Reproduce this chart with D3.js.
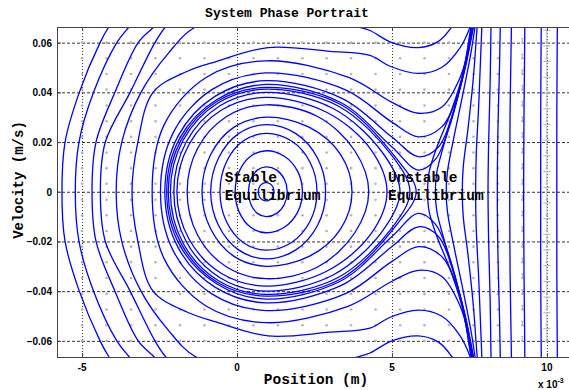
<!DOCTYPE html>
<html lang="en">
<head>
<meta charset="UTF-8">
<title>System Phase Portrait</title>
<script src="https://d3js.org/d3.v7.min.js"></script>
<style>
  body { margin: 0; background: #fff; }
  .tick-label { font-family: "Liberation Sans", Arial, sans-serif; font-size: 10px; font-weight: bold; }
  .mono { font-family: "Liberation Mono", "Courier New", monospace; font-weight: bold; }
</style>
</head>
<body>
<svg id="chart" width="569" height="390"></svg>
<script>
// axis ticks
const xTicks = [-5, 0, 5, 10];
const yTicks = [-0.06, -0.04, -0.02, 0, 0.02, 0.04, 0.06];

// quiver grid (gray markers) and the arrow length seen in each column
const quiverX = [-5, -4.21, -3.42, -2.63, -1.84, -1.05, -0.26, 0.53, 1.32, 2.11, 2.89, 3.68, 4.47, 5.26, 6.05, 6.84, 7.63, 8.42, 9.21, 10];
const quiverV = [-0.06, -0.0537, -0.0474, -0.0411, -0.0347, -0.0284, -0.0221, -0.0158, -0.0095, -0.0032,
                 0.0032, 0.0095, 0.0158, 0.0221, 0.0284, 0.0347, 0.0411, 0.0474, 0.0537, 0.06];
const quiverLen = [0, 0, 0, 0, 0, 0, 0, 0, 0, 0, 0, 0, 0, 0, 0, 0, 0, 0, 0.0018, 0.0052];

// closed orbits round the stable point, upper halves [x, v]
const ringOrbits = [
  [[0.69, 0], [0.72, 0.0019], [0.815, 0.0032], [0.94, 0.0037], [1.065, 0.0032], [1.157, 0.0019], [1.19, 0]],
  [[0.37, 0], [0.446, 0.005], [0.655, 0.0087], [0.94, 0.01], [1.28, 0.0087], [1.529, 0.005], [1.62, 0]],
  [[-0.06, 0], [0.074, 0.0083], [0.44, 0.0143], [0.94, 0.0165], [1.525, 0.0143], [1.953, 0.0083], [2.11, 0]],
  [[-0.55, 0], [-0.35, 0.0118], [0.195, 0.0204], [0.94, 0.0235], [1.76, 0.0204], [2.36, 0.0118], [2.58, 0]],
  [[-0.85, 0], [-0.6, 0.0135], [0.05, 0.0234], [0.94, 0.027], [1.9, 0.0234], [2.6, 0.0135], [2.86, 0]],
  [[-1.13, 0], [-0.85, 0.015], [-0.095, 0.026], [0.94, 0.03], [2.325, 0.026], [3.34, 0.015], [3.71, 0]],
  [[-1.61, 0], [-1.27, 0.0175], [-0.335, 0.0303], [0.94, 0.035], [2.6, 0.0303], [3.8, 0.0165], [4.25, 0]],
  [[-1.94, 0], [-1.55, 0.019], [-0.5, 0.0329], [0.94, 0.038], [2.89, 0.032], [4.32, 0.017], [4.84, 0]],
  [[-2.04, 0], [-1.64, 0.02], [-0.55, 0.0346], [0.94, 0.04], [3.1, 0.0335], [4.68, 0.016], [5.26, 0]],
  [[-2.15, 0], [-1.74, 0.0207], [-0.6, 0.0358], [0.94, 0.0413], [3.26, 0.0345], [5.0, 0.0145], [5.58, 0]],
  [[-2.22, 0], [-1.8, 0.021], [-0.64, 0.0364], [0.94, 0.042], [3.36, 0.035], [5.2, 0.0125], [5.78, 0]]
];

// orbits passing outside the separatrix, upper halves from the left turning point
const passingOrbits = [
  [[-2.27, 0], [-1.85, 0.0215], [-0.66, 0.037], [0.94, 0.0432], [3.36, 0.0358], [5.0, 0.018], [5.85, 0.0087], [6.4, 0.013], [6.9, 0.028], [7.3, 0.048], [7.6, 0.07]],
  [[-2.33, 0], [-1.9, 0.0225], [-0.7, 0.0385], [0.94, 0.0447], [3.4, 0.0375], [5.0, 0.022], [5.85, 0.0141], [6.5, 0.018], [7.0, 0.033], [7.35, 0.05], [7.63, 0.07]],
  [[-2.47, 0], [-2.05, 0.024], [-0.8, 0.0412], [0.94, 0.0478], [3.5, 0.041], [5.0, 0.028], [5.85, 0.0221], [6.6, 0.026], [7.1, 0.038], [7.45, 0.055], [7.68, 0.07]],
  [[-2.74, 0], [-2.35, 0.027], [-1.0, 0.046], [0.94, 0.0527], [3.6, 0.046], [5.0, 0.036], [5.85, 0.0316], [6.6, 0.034], [7.2, 0.046], [7.55, 0.062], [7.7, 0.072]],
  [[-3.39, 0], [-3.2, 0.02], [-2.71, 0.04], [-1.6, 0.0485], [-0.65, 0.0525], [1.0, 0.058], [3.0, 0.0565], [4.29, 0.0549], [4.94, 0.0505], [5.85, 0.0476], [6.6, 0.05], [7.2, 0.058], [7.52, 0.0663], [7.6, 0.07]],
  [[-3.9, 0], [-3.72, 0.02], [-3.1, 0.04], [-2.2, 0.056], [-1.35, 0.0663], [0.94, 0.075], [3.93, 0.0663], [4.29, 0.0649], [5.0, 0.06], [5.85, 0.058], [6.5, 0.0605], [6.93, 0.0663], [7.1, 0.07]],
  [[-4.41, 0], [-4.25, 0.02], [-3.45, 0.04], [-2.65, 0.06], [-2.31, 0.0663], [-1.8, 0.072]],
  [[-4.68, 0], [-4.55, 0.02], [-3.94, 0.04], [-3.19, 0.06], [-2.69, 0.0663], [-2.3, 0.072]],
  [[-5.22, 0], [-5.1, 0.02], [-4.63, 0.04], [-3.88, 0.06], [-3.49, 0.0663], [-3.1, 0.072]],
  [[-5.65, 0], [-5.55, 0.02], [-5.09, 0.04], [-4.42, 0.06], [-4.14, 0.0663], [-3.8, 0.072]]
];

// orbits to the right of the saddle, upper halves from the turning point
const rightOrbits = [
  [[6.15, 0], [6.2, 0.008], [6.45, 0.018], [6.9, 0.032], [7.3, 0.048], [7.55, 0.0663], [7.6, 0.07]],
  [[6.4, 0], [6.45, 0.008], [6.7, 0.02], [7.05, 0.035], [7.4, 0.052], [7.6, 0.0663], [7.65, 0.07]],
  [[6.75, 0], [6.79, 0.008], [7.0, 0.022], [7.3, 0.04], [7.55, 0.056], [7.68, 0.0663], [7.72, 0.07]],
  [[7.27, 0], [7.3, 0.01], [7.45, 0.025], [7.62, 0.045], [7.75, 0.0663], [7.78, 0.07]],
  [[7.7, 0], [7.72, 0.015], [7.8, 0.035], [7.9, 0.0663], [7.92, 0.07]],
  [[8.1, 0], [8.12, 0.02], [8.17, 0.045], [8.2, 0.07]],
  [[8.4, 0], [8.42, 0.025], [8.47, 0.05], [8.5, 0.07]],
  [[8.8, 0], [8.81, 0.03], [8.84, 0.055], [8.86, 0.07]],
  [[9.25, 0], [9.26, 0.03], [9.28, 0.055], [9.29, 0.07]],
  [[9.8, 0], [9.8, 0.03], [9.81, 0.055], [9.82, 0.07]],
  [[10.32, 0], [10.32, 0.03], [10.33, 0.055], [10.34, 0.07]]
];

const width = 569, height = 390;
// the axes run a little past the right edge of the picture
const margin = { left: 57, right: -3, top: 27, bottom: 33 };

const svg = d3.select("#chart");
const x = d3.scaleLinear().domain([-5.81, 10.81]).range([margin.left, width - margin.right]);
const y = d3.scaleLinear().domain([-0.0665, 0.0663]).range([height - margin.bottom, margin.top]);
const x0 = margin.left, x1 = width - margin.right, y0 = margin.top, y1 = height - margin.bottom;

svg.append("defs").append("clipPath").attr("id", "plot-clip")
  .append("rect").attr("x", x0).attr("y", y0).attr("width", x1 - x0).attr("height", y1 - y0);

// grid
const grid = svg.append("g").attr("stroke", "#000").attr("stroke-width", 0.8);
grid.selectAll(".gx").data(xTicks).join("line")
  .attr("x1", d => x(d) + 0.5).attr("x2", d => x(d) + 0.5)
  .attr("y1", y0).attr("y2", y1).attr("stroke-dasharray", "1,2");
grid.selectAll(".gy").data(yTicks).join("line")
  .attr("x1", x0).attr("x2", x1)
  .attr("y1", d => y(d) + 0.5).attr("y2", d => y(d) + 0.5).attr("stroke-dasharray", "3,2");

// quiver markers
const qpts = quiverX.flatMap((qx, i) => quiverV.map(qv => [qx, qv, quiverLen[i]]));
const quiver = svg.append("g").attr("clip-path", "url(#plot-clip)");
quiver.append("g").attr("fill", "#b4b4b4")
  .selectAll("circle").data(qpts).join("circle")
  .attr("cx", d => x(d[0])).attr("cy", d => y(d[1])).attr("r", 1.3);
const arrows = qpts.filter(d => d[2] > 0);
quiver.append("g").attr("stroke", "#b4b4b4").attr("stroke-width", 1)
  .selectAll("line").data(arrows).join("line")
  .attr("x1", d => x(d[0])).attr("x2", d => x(d[0]))
  .attr("y1", d => y(d[1])).attr("y2", d => y(d[1] + d[2]));
quiver.append("g").attr("stroke", "#b4b4b4").attr("stroke-width", 1)
  .selectAll("line").data(arrows).join("line")
  .attr("x1", d => x(d[0]) - d[2] * 700).attr("x2", d => x(d[0]) + d[2] * 700)
  .attr("y1", d => y(d[1] + d[2]) + 0.5).attr("y2", d => y(d[1] + d[2]) + 0.5);

// curves
const line = d3.line().x(d => x(d[0])).y(d => y(d[1]));
const plot = svg.append("g").attr("clip-path", "url(#plot-clip)")
  .attr("fill", "none").attr("stroke", "#0000ff").attr("stroke-width", 1.3);

const mirror = pts => pts.map(([a, b]) => [a, -b]);

plot.selectAll(".ring").data(ringOrbits).join("path")
  .attr("d", up => {
    const low = mirror(up.slice(1, -1)).reverse();
    return line.curve(d3.curveCatmullRomClosed)(up.concat(low));
  });

const openPath = up => {
  const low = mirror(up).reverse();
  return line.curve(d3.curveCatmullRom)(low.concat(up.slice(1)));
};
plot.selectAll(".pass").data(passingOrbits).join("path").attr("d", openPath);
plot.selectAll(".right").data(rightOrbits).join("path").attr("d", openPath);

// box and ticks
svg.append("rect").attr("x", x0 + 0.5).attr("y", y0 + 0.5)
  .attr("width", x1 - x0).attr("height", y1 - y0)
  .attr("fill", "none").attr("stroke", "#444").attr("stroke-width", 1);

const tickLen = 4;
const ticks = svg.append("g").attr("stroke", "#444");
xTicks.forEach(t => {
  ticks.append("line").attr("x1", x(t) + 0.5).attr("x2", x(t) + 0.5).attr("y1", y1).attr("y2", y1 - tickLen);
  ticks.append("line").attr("x1", x(t) + 0.5).attr("x2", x(t) + 0.5).attr("y1", y0).attr("y2", y0 + tickLen);
});
yTicks.forEach(t => {
  ticks.append("line").attr("x1", x0).attr("x2", x0 + tickLen).attr("y1", y(t) + 0.5).attr("y2", y(t) + 0.5);
});

// tick labels
svg.append("g").selectAll("text").data(xTicks).join("text")
  .attr("class", "tick-label").attr("x", d => x(d)).attr("y", y1 + 14)
  .attr("text-anchor", "middle").text(d => d);
svg.append("g").selectAll("text").data(yTicks).join("text")
  .attr("class", "tick-label").attr("x", x0 - 5).attr("y", d => y(d) + 4)
  .attr("text-anchor", "end").text(d => d === 0 ? "0" : d3.format(".2f")(d));

// exponent
const ex = svg.append("text").attr("class", "tick-label").attr("x", 538).attr("y", 388);
ex.append("tspan").text("x 10");
ex.append("tspan").attr("dy", -5).attr("font-size", 7).text("-3");

// titles
svg.append("text").attr("class", "mono").attr("x", 287).attr("y", 17)
  .attr("text-anchor", "middle").attr("font-size", 13).text("System Phase Portrait");
svg.append("text").attr("class", "mono").attr("x", 316).attr("y", 384)
  .attr("text-anchor", "middle").attr("font-size", 14.5).text("Position (m)");
svg.append("text").attr("class", "mono")
  .attr("transform", "translate(23, 180) rotate(-90)")
  .attr("text-anchor", "middle").attr("font-size", 14).text("Velocity (m/s)");

// annotations
const ann = [
  { x: -0.4, v: 0.0, lines: ["Stable", "Equilibrium"] },
  { x: 4.87, v: 0.0, lines: ["Unstable", "Equilibrium"] }
];
ann.forEach(a => {
  const t = svg.append("text").attr("class", "mono").attr("font-size", 14.5)
    .attr("x", x(a.x)).attr("y", y(a.v) - 10);
  a.lines.forEach((s, i) => t.append("tspan").attr("x", x(a.x)).attr("dy", i === 0 ? 0 : 18).text(s));
});
</script>
</body>
</html>
